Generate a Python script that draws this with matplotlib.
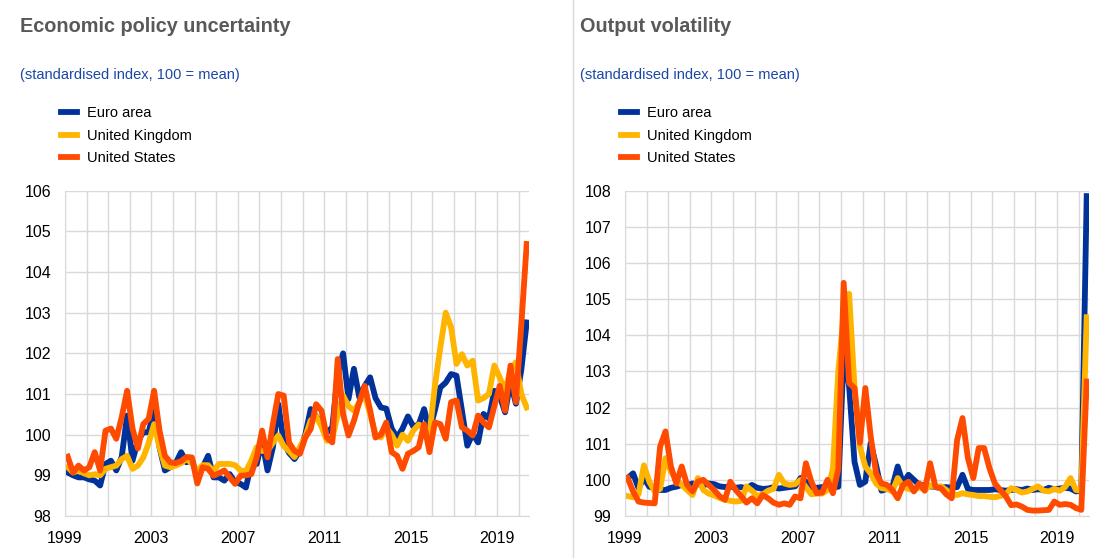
import numpy as np
import matplotlib
matplotlib.use("Agg")
import matplotlib.pyplot as plt

plt.rcParams['font.family'] = ['Liberation Sans', 'DejaVu Sans']

# quarterly data, 1999Q1 - 2020Q2
series_names = ["Euro area", "United Kingdom", "United States"]
colors = ["#003299", "#ffb400", "#ff4b00"]

ea_epu = [99.07, 99.0, 98.95, 98.95, 98.9, 98.87, 98.75, 99.28,
          99.36, 99.12, 99.45, 100.47, 99.36, 99.85, 100.06, 100.06,
          100.64, 99.69, 99.12, 99.2, 99.3, 99.57, 99.32, 99.4,
          98.95, 99.2, 99.48, 98.95, 98.95, 98.87, 99.03, 98.83,
          98.79, 98.7, 99.28, 99.28, 99.85, 99.12, 99.69, 100.75,
          99.81, 99.55, 99.4, 99.6, 100.0, 100.63, 100.45, 100.26,
          100.05, 100.18, 101.5, 102.0, 100.88, 101.62, 100.92, 101.2,
          101.41, 100.9, 100.67, 100.64, 100.15, 99.93, 100.15, 100.45,
          100.2, 100.25, 100.63, 100.1, 100.6, 101.16, 101.28, 101.49,
          101.45, 100.6, 99.73, 100.02, 99.81, 100.51, 100.4, 101.08,
          100.95, 100.55, 101.3, 100.76, 101.6, 102.76]
uk_epu = [99.2, 99.07, 99.12, 99.05, 99.0, 99.03, 99.0, 99.16,
          99.2, 99.24, 99.4, 99.48, 99.16, 99.24, 99.44, 99.8,
          100.26, 99.69, 99.24, 99.2, 99.24, 99.3, 99.4, 99.3,
          99.12, 99.25, 99.25, 99.1, 99.28, 99.28, 99.28, 99.25,
          99.12, 99.1, 99.36, 99.69, 99.6, 99.6, 99.8, 99.98,
          99.72, 99.6, 99.45, 99.7, 99.95, 100.35, 100.45, 100.2,
          99.85, 99.9, 100.5, 100.96, 100.7, 100.59, 100.79, 101.0,
          100.5, 100.02, 99.93, 100.18, 100.0, 99.73, 100.0, 99.85,
          100.1, 100.25, 100.15, 100.02, 101.2, 102.14, 103.0, 102.64,
          101.74, 101.98, 101.7, 101.82, 100.84, 100.9, 101.0, 101.7,
          101.41, 101.08, 101.6, 101.78, 101.0, 100.67]
us_epu = [99.46, 99.07, 99.24, 99.12, 99.2, 99.57, 99.12, 100.1,
          100.15, 99.9, 100.43, 101.08, 100.15, 99.66, 100.26, 100.39,
          101.08, 100.1, 99.48, 99.32, 99.3, 99.35, 99.45, 99.44,
          98.8, 99.2, 99.16, 98.99, 99.05, 99.12, 98.95, 98.79,
          98.99, 99.0, 99.03, 99.44, 100.1, 99.44, 100.26, 101.0,
          100.96, 99.8, 99.6, 99.53, 99.93, 100.14, 100.75, 100.59,
          99.93, 99.81, 101.86, 100.5, 99.98, 100.34, 100.8, 101.2,
          100.6, 99.93, 100.0, 100.3, 99.57, 99.48, 99.16, 99.53,
          99.6, 99.69, 100.26, 99.57, 100.3, 100.26, 99.9, 100.8,
          100.84, 100.18, 100.1, 99.98, 100.47, 100.3, 100.18, 100.7,
          101.2, 100.59, 101.7, 100.8, 102.7, 104.69]

ea_vol = [100.05, 100.18, 99.77, 100.05, 99.81, 99.77, 99.72, 99.72,
          99.78, 99.81, 99.86, 99.85, 99.9, 99.88, 99.85, 99.9,
          99.88, 99.82, 99.8, 99.82, 99.78, 99.8, 99.76, 99.86,
          99.78, 99.75, 99.76, 99.8, 99.76, 99.78, 99.8, 99.82,
          100.05, 99.95, 99.8, 99.78, 99.8, 99.82, 99.8, 99.81,
          103.5, 102.6, 100.5, 99.86, 99.95, 101.02, 100.4, 99.7,
          99.75, 99.8, 100.37, 99.9, 100.14, 100.0, 99.86, 99.85,
          99.82, 99.8, 99.78, 99.8, 99.78, 99.8, 100.14, 99.75,
          99.72, 99.72, 99.72, 99.72, 99.74, 99.72, 99.7, 99.72,
          99.74, 99.72, 99.76, 99.72, 99.74, 99.72, 99.78, 99.74,
          99.76, 99.78, 99.76, 99.68, 99.7, 107.85]
uk_vol = [99.55, 99.52, 99.6, 100.4, 99.95, 99.68, 99.75, 100.6,
          100.23, 100.0, 99.86, 99.72, 99.58, 100.05, 99.72, 99.62,
          99.57, 99.5, 99.45, 99.42, 99.4, 99.42, 99.82, 99.7,
          99.55, 99.6, 99.7, 99.75, 100.14, 99.9, 99.86, 99.88,
          100.0, 99.8, 99.6, 99.62, 99.62, 99.72, 100.3, 103.0,
          104.6, 105.15, 102.58, 100.92, 100.37, 100.18, 99.9, 99.77,
          99.75, 99.68, 100.05, 99.8, 99.75, 99.72, 99.8, 99.72,
          99.85, 99.8, 99.82, 99.72, 99.6, 99.58, 99.63, 99.6,
          99.58, 99.55, 99.55, 99.53, 99.52, 99.55, 99.6, 99.77,
          99.72, 99.65, 99.68, 99.75, 99.82, 99.7, 99.68, 99.75,
          99.7, 99.8, 100.05, 99.72, 99.7, 104.5]
us_vol = [100.05, 99.68, 99.4, 99.37, 99.36, 99.35, 100.92, 101.34,
          100.37, 99.9, 100.37, 99.86, 99.68, 99.95, 100.0, 99.86,
          99.72, 99.55, 99.45, 99.95, 99.72, 99.55, 99.37, 99.49,
          99.35, 99.58, 99.49, 99.37, 99.31, 99.35, 99.31, 99.54,
          99.49, 100.46, 99.95, 99.63, 99.65, 100.0, 99.63, 100.3,
          105.45, 102.68, 102.54, 101.02, 102.54, 101.2, 100.18, 99.9,
          99.86, 99.72, 99.49, 99.86, 99.95, 99.68, 99.9, 99.7,
          100.46, 99.8, 99.77, 99.6, 99.49, 101.1, 101.71, 100.6,
          100.05, 100.88, 100.88, 100.32, 99.9, 99.72, 99.55, 99.3,
          99.32, 99.26, 99.17, 99.15, 99.15, 99.16, 99.17, 99.4,
          99.31, 99.33, 99.31, 99.22, 99.17, 102.72]

year_labels = [1999, 2003, 2007, 2011, 2015, 2019]

# mid-quarter positions
t = 1999 + (np.arange(len(ea_epu)) + 0.5) / 4

W, H = 1119, 558
fig = plt.figure(figsize=(W / 100, H / 100), dpi=100)

grid_col = "#d9d9d9"
title_col = "#595959"
sub_col = "#1a47a6"


def panel(x0, title, data, ylim):
    ax = fig.add_axes([x0 / W, 1 - 516 / H, 464.4 / W, 325.3 / H])
    for vals, c, name in zip(data, colors, series_names):
        ax.plot(t, vals, color=c, lw=4.2, label=name, solid_joinstyle="round")
    ax.set_xlim(1999, 2020.5)
    ax.set_ylim(*ylim)
    ax.set_xticks(year_labels)
    ax.set_xticks(range(1999, 2021), minor=True)
    ax.set_yticks(range(ylim[0], ylim[1] + 1))
    ax.grid(True, which="both", color=grid_col, lw=1)
    ax.set_axisbelow(True)
    for s in ["top", "right"]:
        ax.spines[s].set_visible(False)
    for s in ["left", "bottom"]:
        ax.spines[s].set_color(grid_col)
    ax.tick_params(which="both", length=0, labelsize=11.5, colors="#000000")
    ax.tick_params(axis="x", pad=11)
    ax.tick_params(axis="y", pad=10)

    lx = x0 - 45
    fig.text(lx / W, 1 - 26 / H, title, fontsize=14.3, weight="bold",
             color=title_col, va="center")
    fig.text(lx / W, 1 - 75 / H, "(standardised index, 100 = mean)",
             fontsize=10.5, color=sub_col, va="center")
    ax.legend(loc="upper left", bbox_to_anchor=((x0 - 4) / W, 1 - 106 / H),
              bbox_transform=fig.transFigure, frameon=False, fontsize=10.5,
              handlelength=1.1, handletextpad=0.65, labelspacing=0.6,
              borderpad=0, borderaxespad=0)
    return ax


panel(65, "Economic policy uncertainty", [ea_epu, uk_epu, us_epu], (98, 106))
panel(625, "Output volatility", [ea_vol, uk_vol, us_vol], (99, 108))

fig.add_artist(plt.Line2D([572.5 / W, 572.5 / W], [0, 1], color=grid_col, lw=1))

fig.savefig("out.png", dpi=100)
